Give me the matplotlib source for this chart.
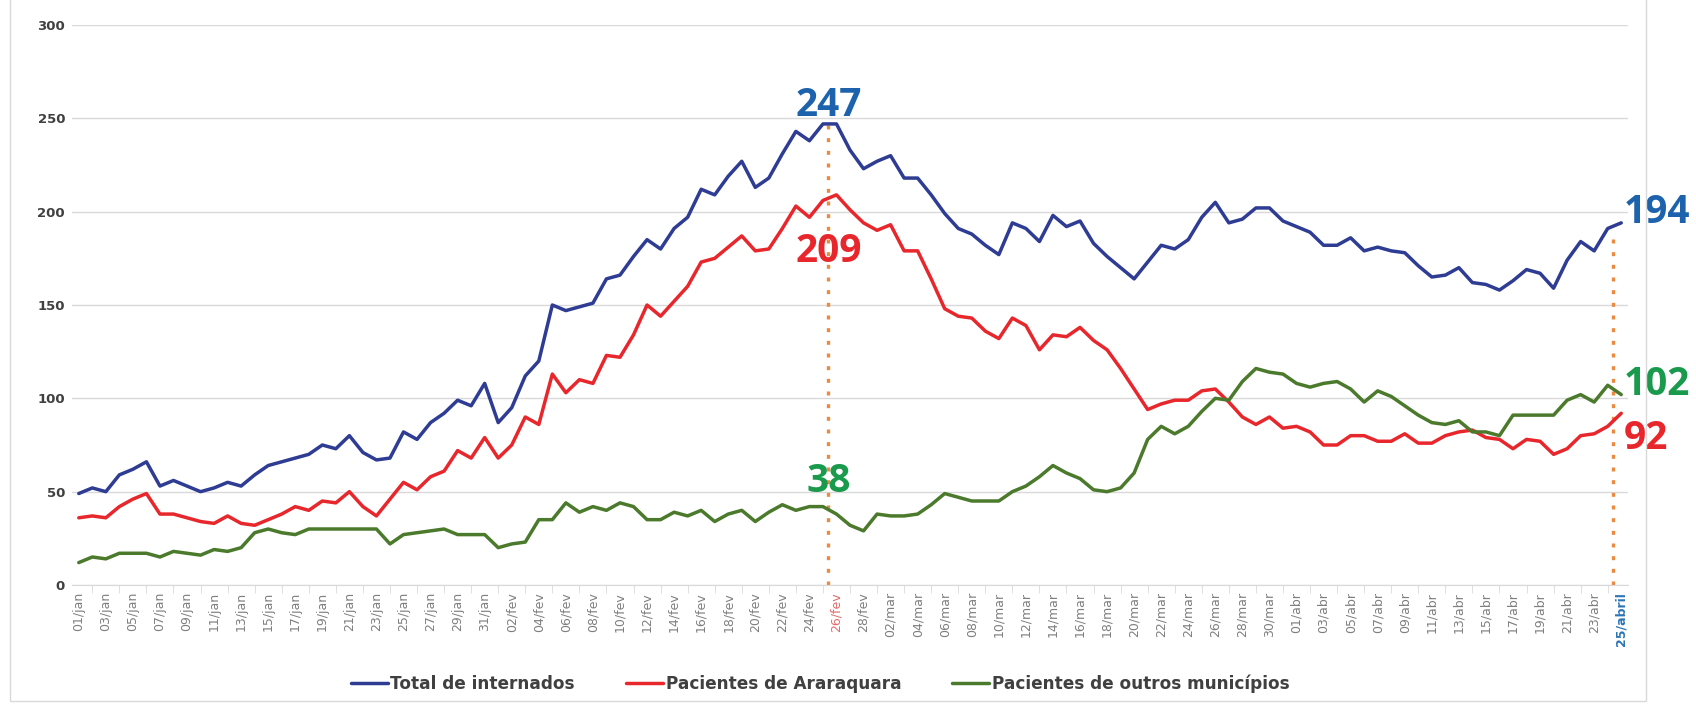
import numpy as np
import pandas as pd
import matplotlib
matplotlib.use("Agg")
import matplotlib.pyplot as plt
from matplotlib import font_manager

# internados por dia, 01/jan a 25/abr
total = [49, 52, 50, 59, 62, 66, 53, 56, 53, 50, 52, 55, 53, 59, 64, 66, 68, 70, 75, 73, 80, 71, 67, 68,
         82, 78, 87, 92, 99, 96, 108, 87, 95, 112, 120, 150, 147, 149, 151, 164, 166, 176, 185, 180, 191, 197, 212,
         209, 219, 227, 213, 218, 231, 243, 238, 247, 247, 233, 223, 227, 230, 218, 218, 209, 199, 191, 188, 182, 177, 194,
         191, 184, 198, 192, 195, 183, 176, 170, 164, 173, 182, 180, 185, 197, 205, 194, 196, 202, 202, 195, 192, 189, 182,
         182, 186, 179, 181, 179, 178, 171, 165, 166, 170, 162, 161, 158, 163, 169, 167, 159, 174, 184, 179, 191, 194]
araraquara = [36, 37, 36, 42, 46, 49, 38, 38, 36, 34, 33, 37, 33, 32, 35, 38, 42, 40, 45, 44, 50, 42, 37, 46,
              55, 51, 58, 61, 72, 68, 79, 68, 75, 90, 86, 113, 103, 110, 108, 123, 122, 134, 150, 144, 152, 160, 173,
              175, 181, 187, 179, 180, 191, 203, 197, 206, 209, 201, 194, 190, 193, 179, 179, 164, 148, 144, 143, 136, 132, 143,
              139, 126, 134, 133, 138, 131, 126, 116, 105, 94, 97, 99, 99, 104, 105, 98, 90, 86, 90, 84, 85, 82, 75,
              75, 80, 80, 77, 77, 81, 76, 76, 80, 82, 83, 79, 78, 73, 78, 77, 70, 73, 80, 81, 85, 92]
outros = [12, 15, 14, 17, 17, 17, 15, 18, 17, 16, 19, 18, 20, 28, 30, 28, 27, 30, 30, 30, 30, 30, 30, 22,
          27, 28, 29, 30, 27, 27, 27, 20, 22, 23, 35, 35, 44, 39, 42, 40, 44, 42, 35, 35, 39, 37, 40,
          34, 38, 40, 34, 39, 43, 40, 42, 42, 38, 32, 29, 38, 37, 37, 38, 43, 49, 47, 45, 45, 45, 50,
          53, 58, 64, 60, 57, 51, 50, 52, 60, 78, 85, 81, 85, 93, 100, 99, 109, 116, 114, 113, 108, 106, 108,
          109, 105, 98, 104, 101, 96, 91, 87, 86, 88, 82, 82, 80, 91, 91, 91, 91, 99, 102, 98, 107, 102]

series = ["Total de internados", "Pacientes de Araraquara", "Pacientes de outros municípios"]

meses = {1: "jan", 2: "fev", 3: "mar", 4: "abr"}
dias = pd.date_range("2021-01-01", "2021-04-25")
rotulos = [f"{d.day:02d}/{meses[d.month]}" for d in dias]
rotulos[-1] = "25/abril"
dia_pico = rotulos.index("26/fev")

AZUL, VERMELHO, VERDE = "#2e3c93", "#e8272d", "#4b7a2c"
AZUL_TXT, VERDE_TXT = "#1c62ac", "#1a9a4c"
LARANJA = "#ec8a42"
CINZA = "#d9d9d9"

W, H = 1696, 704
fig = plt.figure(figsize=(W / 100, H / 100), dpi=100)
ax = fig.add_axes([72 / W, 119 / H, 1556 / W, 560 / H])

x = np.arange(len(total))
for vals, cor, nome in zip([total, araraquara, outros], [AZUL, VERMELHO, VERDE], series):
    ax.plot(x, vals, color=cor, lw=2.5, label=nome,
            solid_joinstyle="round", solid_capstyle="round", zorder=3)

# linhas pontilhadas de referencia
dots = (0, (1.2, 2.6))
ax.vlines(dia_pico - 0.6, 0, total[dia_pico], color=LARANJA, lw=2.4, linestyle=dots, zorder=2)
ax.vlines(x[-1] - 0.6, 0, total[-1] - 8, color=LARANJA, lw=2.4, linestyle=dots, zorder=2)

ax.set_xlim(-0.5, len(total) - 0.5)
ax.set_ylim(0, 300)
ax.set_yticks(range(0, 301, 50))
ax.grid(axis="y", color=CINZA, lw=1)
ax.set_axisbelow(True)
for s in ["left", "right", "top"]:
    ax.spines[s].set_visible(False)
ax.spines["bottom"].set_color(CINZA)

ax.set_xticks(x[::2])
ax.set_xticklabels(rotulos[::2], rotation=90, fontsize=9, color="#7f7f7f")
ax.set_xticks(np.arange(1, len(total), 2), minor=True)
ax.tick_params(axis="x", which="major", length=0, pad=5)
ax.tick_params(axis="x", which="minor", length=6, color=CINZA)
ax.tick_params(axis="y", length=0, pad=5, labelsize=9.5, labelcolor="#404040")
for t in ax.get_yticklabels():
    t.set_fontweight("bold")
labs = ax.get_xticklabels()
labs[dia_pico // 2].set_color("#e46a6a")
labs[-1].set_color("#2e75b6")
labs[-1].set_fontweight("bold")

# valores em destaque
fonte = dict(family=["Open Sans", "DejaVu Sans"], fontweight="bold", fontsize=28, clip_on=False)
ax.text(dia_pico - 0.6, total[dia_pico] + 4.5, str(total[dia_pico]), color=AZUL_TXT,
        ha="center", va="baseline", **fonte)
ax.text(dia_pico - 0.6, araraquara[dia_pico] - 36, str(araraquara[dia_pico]), color=VERMELHO,
        ha="center", va="baseline", **fonte)
ax.text(dia_pico - 0.6, outros[dia_pico] + 12, str(outros[dia_pico]), color=VERDE_TXT,
        ha="center", va="baseline", **fonte)
ax.text(x[-1] + 0.15, total[-1], str(total[-1]), color=AZUL_TXT, ha="left", va="baseline", **fonte)
ax.text(x[-1] + 0.15, outros[-1], str(outros[-1]), color=VERDE_TXT, ha="left", va="baseline", **fonte)
ax.text(x[-1] + 0.15, araraquara[-1] - 3, str(araraquara[-1]), color=VERMELHO, ha="left", va="top", **fonte)

# legenda
nomes = {f.name for f in font_manager.fontManager.ttflist}
if "Liberation Sans Narrow" in nomes:
    prop = dict(family="Liberation Sans Narrow", weight="bold", size=16.5)
else:
    prop = dict(family="DejaVu Sans", weight="bold", size=12.2)
fig.legend(loc="center", bbox_to_anchor=(820 / W, 1 - 684 / H), ncol=3, frameon=False,
           handlelength=2.2, handletextpad=0.15, columnspacing=3, prop=prop, labelcolor="#404040")

# moldura do grafico
fig.add_artist(plt.Rectangle((10 / W, 3 / H), 1636 / W, 1.2, transform=fig.transFigure,
                             fill=False, ec=CINZA, lw=1))

fig.savefig("out.png", dpi=100)
